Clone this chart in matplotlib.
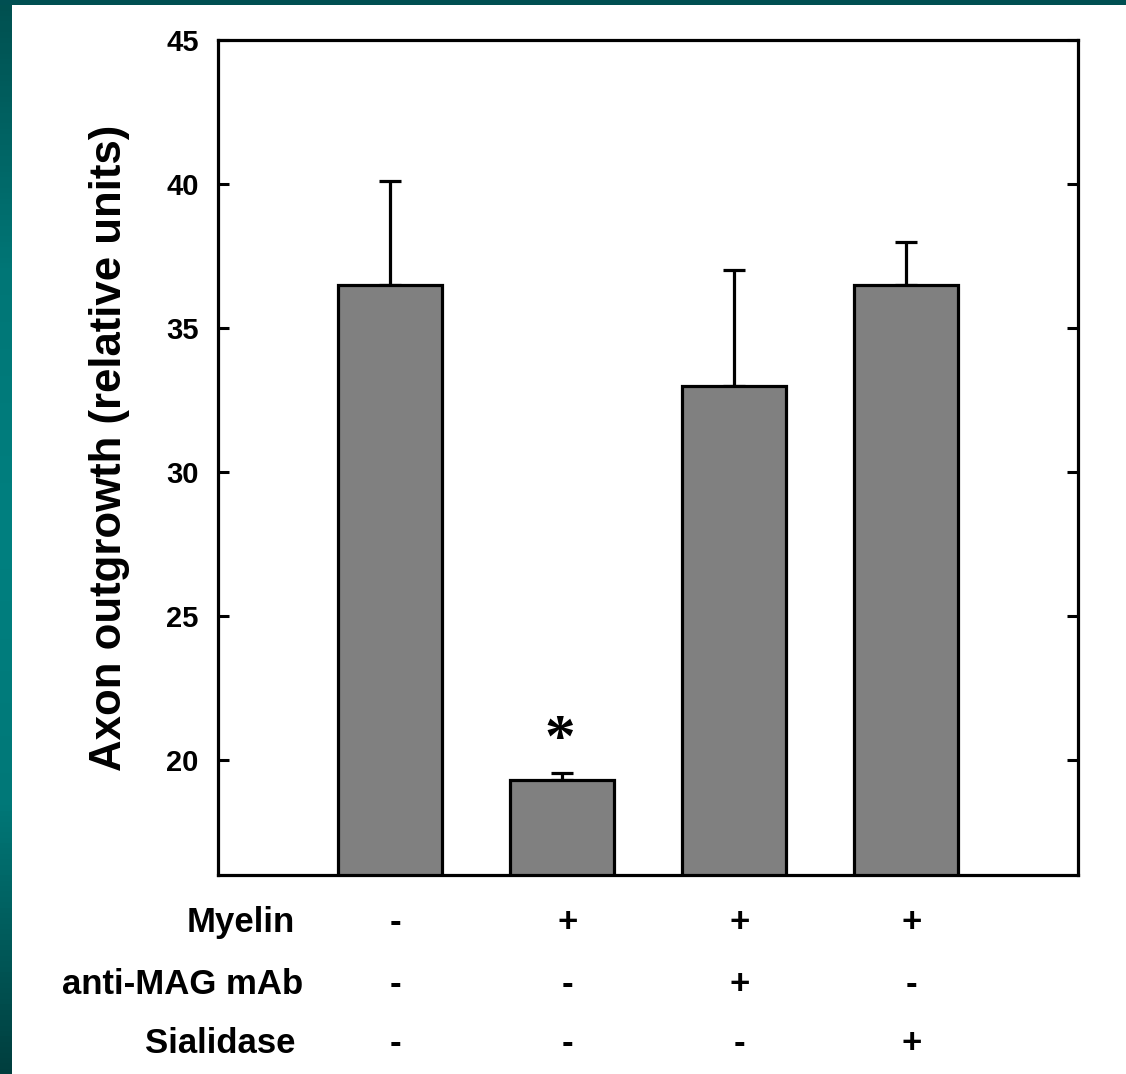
import numpy as np
import matplotlib
matplotlib.use("Agg")
import matplotlib.pyplot as plt
from matplotlib.transforms import blended_transform_factory

# ---- data ----
groups = ["1", "2", "3", "4"]
means = [36.5, 19.3, 33.0, 36.5]
errors_upper = [3.6, 0.25, 4.0, 1.5]
row_labels = ["Myelin", "anti-MAG mAb", "Sialidase"]
row_signs = [
    ["-", "+", "+", "+"],
    ["-", "-", "+", "-"],
    ["-", "-", "-", "+"],
]
yticks = [20, 25, 30, 35, 40, 45]
sig_marks = ["", "*", "", ""]
ylabel = "Axon outgrowth (relative units)"

plt.rcParams['font.family'] = ['Liberation Sans', 'DejaVu Sans']

W, H = 1126, 1074
fig = plt.figure(figsize=(W / 100, H / 100), dpi=100)
fig.patch.set_facecolor("white")

# teal frame: left gradient strip and top strip
strip = fig.add_axes([0, 0, 11 / W, 1])
grad = np.array([[0, 80, 80], [0, 118, 118], [0, 128, 128], [0, 120, 120], [0, 62, 62]]) / 255.0
yy = np.linspace(0, 1, 200)
pos = np.linspace(0, 1, len(grad))
img = np.stack([np.interp(yy, pos, grad[:, c]) for c in range(3)], axis=1)[:, None, :]
strip.imshow(img, aspect="auto", extent=[0, 1, 1, 0])
strip.set_axis_off()
top = fig.add_axes([0, 1 - 5 / H, 1, 5 / H])
top.set_facecolor("#004f52")
top.set_xticks([]); top.set_yticks([])
for s in top.spines.values():
    s.set_visible(False)

ax = fig.add_axes([218 / W, 1 - 875 / H, (1078 - 218) / W, (875 - 40) / H])
x = np.arange(len(groups))
ax.bar(x, means, width=0.6, color="#808080", edgecolor="black", linewidth=2.3, zorder=2)
ax.errorbar(x, means, yerr=[np.zeros(len(means)), errors_upper], fmt="none",
            ecolor="black", elinewidth=2.3, capsize=8, capthick=2.3, zorder=1)

ax.set_xlim(-1, 4)
ax.set_ylim(16, 45)
ax.set_yticks(yticks)
ax.set_yticklabels([str(t) for t in yticks], fontsize=21, fontweight="bold")
ax.set_xticks([])
ax.tick_params(axis="y", direction="in", length=8, width=2.2, pad=14, right=True, left=True)
for s in ax.spines.values():
    s.set_linewidth(2.3)
ax.set_ylabel(ylabel, fontsize=31.5, fontweight="bold")
ax.yaxis.set_label_coords(-0.1025, 0.511)

for xi, m, e, mk in zip(x, means, errors_upper, sig_marks):
    if mk:
        ax.text(xi - 0.01, m + e + 1.1, mk, ha="center", va="center", fontsize=44,
                fontweight="bold", family=["Liberation Serif", "DejaVu Serif"], clip_on=False)

trans = blended_transform_factory(ax.transData, ax.transAxes)
row_y = [-0.0563, -0.1317, -0.2012]
row_x = [-0.552, -0.505, -0.552]
for lab, signs, ry, rx in zip(row_labels, row_signs, row_y, row_x):
    ax.text(rx, ry, lab, transform=trans, ha="right", va="center",
            fontsize=25, fontweight="bold", clip_on=False)
    for xi, sgn in zip(x, signs):
        ax.text(xi + 0.03, ry, sgn, transform=trans, ha="center", va="center",
                fontsize=25, fontweight="bold", clip_on=False)

fig.savefig("out.png", dpi=100, facecolor=fig.get_facecolor())
